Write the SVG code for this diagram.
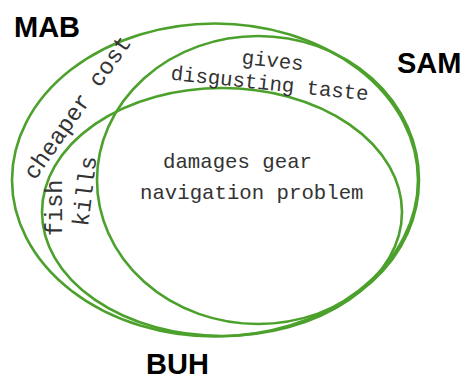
<svg xmlns="http://www.w3.org/2000/svg" width="466" height="381" viewBox="0 0 466 381">
<style>
.set{fill:none;stroke:#4ca12c;stroke-width:2.6}
.lbl{font-family:"Liberation Sans",Arial,sans-serif;font-weight:bold;font-size:29px;fill:#000}
.t{font-family:"Liberation Mono","Courier New",monospace;font-size:20.7px;fill:#333}
.r{font-family:"Liberation Mono","Courier New",monospace;font-size:23.5px;fill:#333}
</style>
<rect width="466" height="381" fill="#fff"/>
<g id="MAB">
<ellipse class="set" cx="215" cy="180" rx="203" ry="156.5"/>
<text class="lbl" x="14" y="37">MAB</text>
</g>
<g id="SAM">
<ellipse class="set" cx="258" cy="180" rx="161" ry="144"/>
<text class="lbl" x="397" y="73">SAM</text>
</g>
<g id="BUH">
<ellipse class="set" cx="222" cy="212" rx="180" ry="124"/>
<text class="lbl" x="146" y="374">BUH</text>
</g>
<g id="labels">
<text class="r" transform="translate(35,181) rotate(-55)">cheaper cost</text>
<text class="r" transform="translate(62,236) rotate(-90)">fish</text>
<text class="r" transform="translate(88,227) rotate(-83)">kills</text>
<text class="t" text-anchor="middle" transform="translate(272,67) rotate(6)">gives</text>
<text class="t" text-anchor="middle" transform="translate(269,90) rotate(6)">disgusting taste</text>
<text class="t" x="163" y="168">damages gear</text>
<text class="t" x="140" y="199">navigation problem</text>
</g>
</svg>
